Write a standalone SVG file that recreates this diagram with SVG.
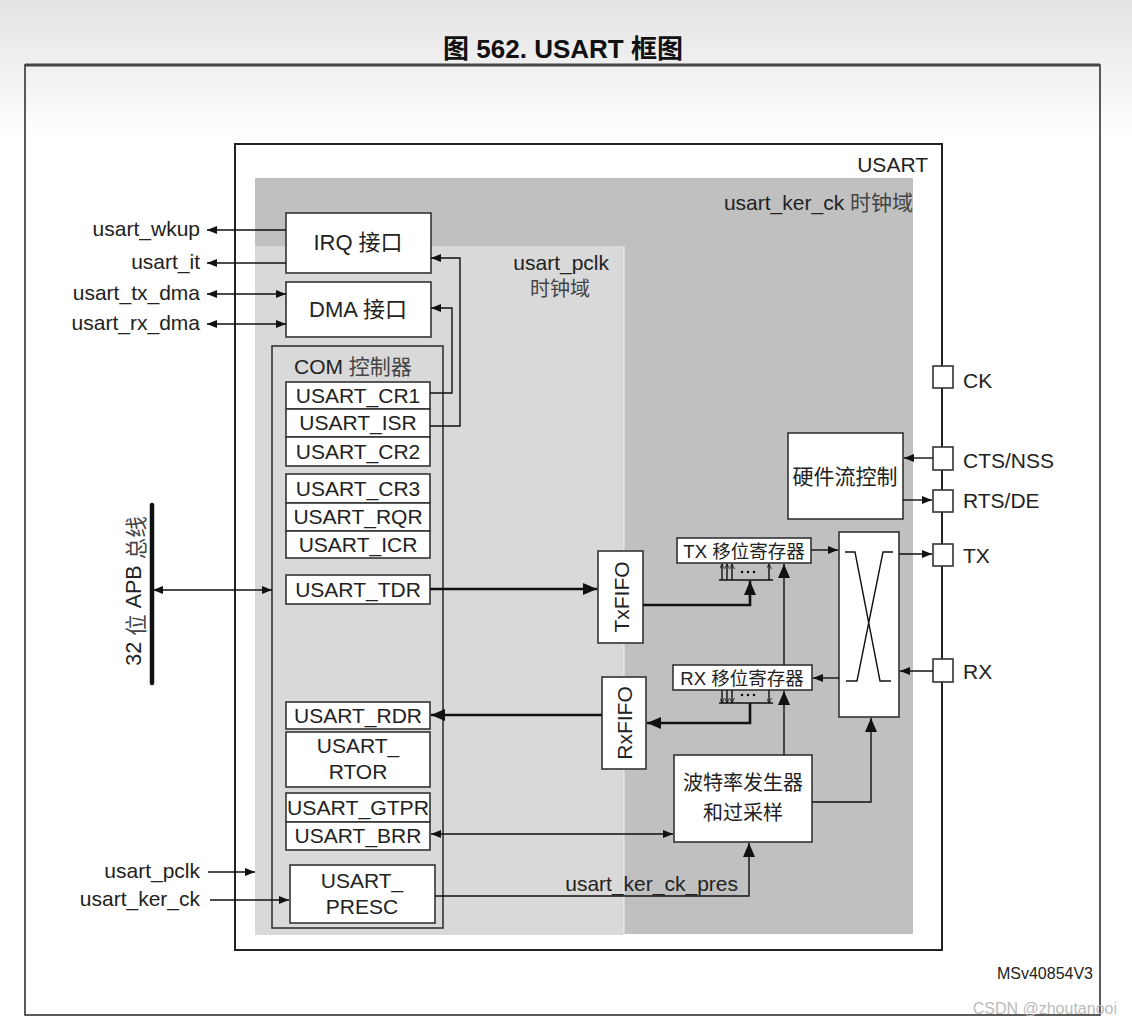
<svg xmlns="http://www.w3.org/2000/svg" width="1132" height="1024" viewBox="0 0 1132 1024">
<defs>
<linearGradient id="bg" x1="0" y1="0" x2="0" y2="1">
<stop offset="0" stop-color="#e3e3e3"/><stop offset="1" stop-color="#ffffff"/>
</linearGradient>
<marker id="ah" markerWidth="10" markerHeight="8" refX="10" refY="4" orient="auto-start-reverse" markerUnits="userSpaceOnUse"><path d="M0,0 L10,4 L0,8 z" fill="#111"/></marker>
<marker id="ahb" markerWidth="14" markerHeight="12" refX="14" refY="6" orient="auto-start-reverse" markerUnits="userSpaceOnUse"><path d="M0,0 L14,6 L0,12 z" fill="#111"/></marker>
<marker id="ahs" markerWidth="5" markerHeight="5" refX="5" refY="2.5" orient="auto" markerUnits="userSpaceOnUse"><path d="M0,0 L5,2.5 L0,5" fill="none" stroke="#111" stroke-width="0.8"/></marker>
</defs>
<style>
text{font-family:"Liberation Sans","Noto Sans CJK SC",sans-serif;fill:#222}
.lbl{font-size:21px}
.reg{font-size:21px;text-anchor:middle}
.pin{font-size:21px}
.cjk{font-family:"Noto Sans CJK SC","Liberation Sans",sans-serif}
.box{fill:#fff;stroke:#333;stroke-width:1.6}
.ln{fill:none;stroke:#111;stroke-width:1.4}
.lnb{fill:none;stroke:#111;stroke-width:2.6}
.dot{fill:#111}
</style>
<rect x="0" y="0" width="1132" height="1024" fill="#fff"/>
<rect x="0" y="0" width="1132" height="140" fill="url(#bg)"/>
<text x="563" y="58" text-anchor="middle" style="font-size:26px;font-weight:bold;fill:#111">图 562. USART 框图</text>
<rect x="25" y="65" width="1075" height="950" fill="none" stroke="#333" stroke-width="1.6"/>
<line x1="25" y1="65" x2="1100" y2="65" stroke="#444" stroke-width="3"/>

<!-- USART block -->
<g id="usart">
<rect x="235" y="144" width="707" height="806" fill="#fff" stroke="#222" stroke-width="2"/>
<rect x="255" y="178" width="658" height="756" fill="#c0c0c0"/>
<rect x="255" y="246" width="369" height="689" fill="#d9d9d9"/>
<line x1="624" y1="246" x2="624" y2="935" stroke="#f0f0f0" stroke-width="1"/>
<text x="928" y="172" text-anchor="end" style="font-size:21px">USART</text>
<text x="913" y="210" text-anchor="end" style="font-size:21px">usart_ker_ck <tspan class="cjk" style="fill:#444">时钟域</tspan></text>
<text x="609" y="270" text-anchor="end" style="font-size:21px">usart_pclk</text>
<text x="560" y="296" text-anchor="middle" class="cjk" style="font-size:20px;fill:#444">时钟域</text>
</g>

<g id="irq"><rect class="box" x="286" y="213" width="145" height="60"/><text x="358" y="250" text-anchor="middle" style="font-size:22px">IRQ <tspan class="cjk">接口</tspan></text></g>
<g id="dma"><rect class="box" x="286" y="282" width="145" height="55"/><text x="358" y="317" text-anchor="middle" style="font-size:22px">DMA <tspan class="cjk">接口</tspan></text></g>

<g id="com">
<rect x="272" y="346" width="171" height="582" fill="#d9d9d9" stroke="#333" stroke-width="1.6"/>
<text x="294" y="374" style="font-size:21px">COM <tspan class="cjk" style="fill:#444">控制器</tspan></text>
</g>
<g id="regs1">
<rect class="box" x="286" y="382" width="144" height="27"/><text class="reg" x="358" y="403">USART_CR1</text>
<rect class="box" x="286" y="409" width="144" height="28"/><text class="reg" x="358" y="430">USART_ISR</text>
<rect class="box" x="286" y="437" width="144" height="29"/><text class="reg" x="358" y="459">USART_CR2</text>
</g>
<g id="regs2">
<rect class="box" x="286" y="474" width="144" height="29"/><text class="reg" x="358" y="496">USART_CR3</text>
<rect class="box" x="286" y="503" width="144" height="28"/><text class="reg" x="358" y="524">USART_RQR</text>
<rect class="box" x="286" y="531" width="144" height="27"/><text class="reg" x="358" y="552">USART_ICR</text>
</g>
<g id="tdr"><rect class="box" x="286" y="575" width="144" height="29"/><text class="reg" x="358" y="597">USART_TDR</text></g>
<g id="rdr"><rect class="box" x="286" y="702" width="144" height="27"/><text class="reg" x="358" y="723">USART_RDR</text></g>
<g id="rtor"><rect class="box" x="286" y="732" width="144" height="55"/><text class="reg" x="358" y="753">USART_</text><text class="reg" x="358" y="779">RTOR</text></g>
<g id="gtpr"><rect class="box" x="286" y="793" width="144" height="29"/><text class="reg" x="358" y="815" textLength="142" lengthAdjust="spacingAndGlyphs">USART_GTPR</text></g>
<g id="brr"><rect class="box" x="286" y="822" width="144" height="28"/><text class="reg" x="358" y="843">USART_BRR</text></g>
<g id="presc"><rect class="box" x="290" y="865" width="145" height="58"/><text class="reg" x="362" y="888">USART_</text><text class="reg" x="362" y="914">PRESC</text></g>

<g id="txfifo"><rect class="box" x="598" y="551" width="45" height="92"/><text transform="translate(621,597) rotate(-90)" text-anchor="middle" dominant-baseline="central" style="font-size:21px">TxFIFO</text></g>
<g id="rxfifo"><rect class="box" x="602" y="677" width="44" height="92"/><text transform="translate(624,723) rotate(-90)" text-anchor="middle" dominant-baseline="central" style="font-size:21px">RxFIFO</text></g>

<g id="txsr"><rect class="box" x="677" y="538" width="134" height="25"/><text x="744" y="558" text-anchor="middle" style="font-size:18.5px">TX <tspan class="cjk">移位寄存器</tspan></text></g>
<g id="rxsr"><rect class="box" x="673" y="665" width="139" height="25"/><text x="742" y="685" text-anchor="middle" style="font-size:18.5px">RX <tspan class="cjk">移位寄存器</tspan></text></g>

<g id="xbar">
<rect class="box" x="839" y="532" width="60" height="185"/>
<path class="ln" d="M845,552 H855 L880,681 H891 M893,552 H883 L857,681 H846"/>
</g>

<g id="hwfc"><rect class="box" x="788" y="433" width="115" height="86"/><text x="845" y="484" text-anchor="middle" class="cjk" style="font-size:21px">硬件流控制</text></g>

<g id="baud"><rect class="box" x="674" y="755" width="138" height="87"/><text x="743" y="790" text-anchor="middle" class="cjk" style="font-size:20px">波特率发生器</text><text x="743" y="820" text-anchor="middle" class="cjk" style="font-size:20px">和过采样</text></g>

<g id="pins">
<rect class="box" x="933" y="366" width="20" height="22"/><text class="pin" x="963" y="388">CK</text>
<rect class="box" x="933" y="447" width="20" height="23"/><text class="pin" x="963" y="468">CTS/NSS</text>
<rect class="box" x="933" y="490" width="20" height="22"/><text class="pin" x="963" y="508">RTS/DE</text>
<rect class="box" x="933" y="544" width="20" height="22"/><text class="pin" x="963" y="563">TX</text>
<rect class="box" x="933" y="659" width="20" height="23"/><text class="pin" x="963" y="679">RX</text>
</g>

<g id="apb">
<line x1="152" y1="505" x2="152" y2="683" stroke="#111" stroke-width="4.5" stroke-linecap="round"/>
<text transform="translate(134,591) rotate(-90)" text-anchor="middle" dominant-baseline="central" style="font-size:21.5px">32 <tspan class="cjk" style="fill:#444">位</tspan> APB <tspan class="cjk" style="fill:#444">总线</tspan></text>
</g>

<g id="labels">
<text class="lbl" x="200" y="236" text-anchor="end">usart_wkup</text>
<text class="lbl" x="200" y="269" text-anchor="end">usart_it</text>
<text class="lbl" x="200" y="300" text-anchor="end">usart_tx_dma</text>
<text class="lbl" x="200" y="330" text-anchor="end">usart_rx_dma</text>
<text class="lbl" x="200" y="878" text-anchor="end">usart_pclk</text>
<text class="lbl" x="200" y="906" text-anchor="end">usart_ker_ck</text>
<text class="lbl" x="738" y="891" text-anchor="end">usart_ker_ck_pres</text>
<text x="1093" y="979" text-anchor="end" style="font-size:16px">MSv40854V3</text>
<text x="1117" y="1014" text-anchor="end" style="font-size:16px;fill:#bbb">CSDN @zhoutanooi</text>
</g>

<g id="connectors">
<line class="ln" x1="286" y1="230" x2="207" y2="230" marker-end="url(#ah)"/>
<line class="ln" x1="286" y1="263" x2="207" y2="263" marker-end="url(#ah)"/>
<line class="ln" x1="207" y1="294" x2="286" y2="294" marker-start="url(#ah)" marker-end="url(#ah)"/>
<line class="ln" x1="207" y1="324" x2="286" y2="324" marker-start="url(#ah)" marker-end="url(#ah)"/>
<path class="ln" d="M430,393 H452 V308 H431" marker-end="url(#ah)"/>
<path class="ln" d="M430,426 H460 V258 H431" marker-end="url(#ah)"/>
<line class="ln" x1="153" y1="590" x2="272" y2="590" marker-start="url(#ah)" marker-end="url(#ah)"/>
<line class="lnb" x1="430" y1="589" x2="597" y2="589" marker-end="url(#ahb)"/>
<path class="lnb" d="M643,605 H750 V581" marker-end="url(#ahb)"/>
<path class="ln" d="M719,580 H773"/>
<line class="ln" x1="722" y1="580" x2="722" y2="564" marker-end="url(#ahs)"/>
<line class="ln" x1="727" y1="580" x2="727" y2="564" marker-end="url(#ahs)"/>
<line class="ln" x1="732" y1="580" x2="732" y2="564" marker-end="url(#ahs)"/>
<line class="ln" x1="769" y1="580" x2="769" y2="564" marker-end="url(#ahs)"/>
<circle class="dot" cx="742" cy="572" r="1.3"/><circle class="dot" cx="748" cy="572" r="1.3"/><circle class="dot" cx="754" cy="572" r="1.3"/>
<path class="ln" d="M719,703 H773"/>
<line class="ln" x1="722" y1="690" x2="722" y2="703" marker-end="url(#ahs)"/>
<line class="ln" x1="727" y1="690" x2="727" y2="703" marker-end="url(#ahs)"/>
<line class="ln" x1="732" y1="690" x2="732" y2="703" marker-end="url(#ahs)"/>
<line class="ln" x1="769" y1="690" x2="769" y2="703" marker-end="url(#ahs)"/>
<circle class="dot" cx="742" cy="695" r="1.3"/><circle class="dot" cx="748" cy="695" r="1.3"/><circle class="dot" cx="754" cy="695" r="1.3"/>
<path class="lnb" d="M750,703 V723 H647" marker-end="url(#ahb)"/>
<line class="lnb" x1="602" y1="715" x2="431" y2="715" marker-end="url(#ahb)"/>
<line class="ln" x1="784" y1="755" x2="784" y2="691" marker-end="url(#ahb)"/>
<line class="ln" x1="784" y1="665" x2="784" y2="564" marker-end="url(#ahb)"/>
<line class="ln" x1="811" y1="550" x2="838" y2="550" marker-end="url(#ah)"/>
<line class="ln" x1="899" y1="554" x2="932" y2="554" marker-end="url(#ah)"/>
<line class="ln" x1="933" y1="671" x2="900" y2="671" marker-end="url(#ah)"/>
<line class="ln" x1="839" y1="678" x2="813" y2="678" marker-end="url(#ah)"/>
<line class="ln" x1="933" y1="458" x2="904" y2="458" marker-end="url(#ah)"/>
<line class="ln" x1="903" y1="500" x2="932" y2="500" marker-end="url(#ah)"/>
<path class="ln" d="M812,802 H871 V718" marker-end="url(#ahb)"/>
<line class="ln" x1="431" y1="834" x2="673" y2="834" marker-start="url(#ah)" marker-end="url(#ah)"/>
<path class="ln" d="M435,896 H749 V843" marker-end="url(#ahb)"/>
<line class="ln" x1="208" y1="872" x2="255" y2="872" marker-end="url(#ah)"/>
<line class="ln" x1="210" y1="900" x2="289" y2="900" marker-end="url(#ah)"/>
</g>
</svg>
